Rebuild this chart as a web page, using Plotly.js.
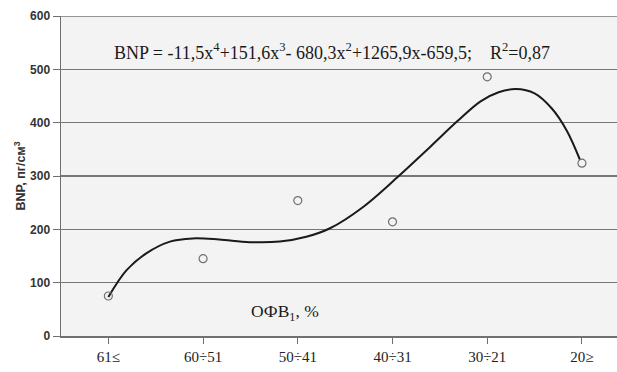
<!DOCTYPE html>
<html>
<head>
<meta charset="utf-8">
<script src="https://cdn.plot.ly/plotly-3.0.1.min.js"></script>
<style>html,body{margin:0;padding:0;background:#fff;}#chart{width:617px;height:372px;}</style>
</head>
<body>
<div id="chart"></div>
<script>
// Categories (EF groups) and observed BNP values
var categories = ["61≤", "60÷51", "50÷41", "40÷31", "30÷21", "20≥"];
var bnpValues = [75, 145, 254, 214, 486, 324];

// Trendline (position in category units, value)
var trendX = [0.0, 0.19, 0.40, 0.65, 0.89, 1.17, 1.49, 1.81, 2.09, 2.34, 2.69, 3.06, 3.40, 3.68, 3.93, 4.12, 4.30, 4.50, 4.68, 4.84, 4.98];
var trendY = [73, 123, 155, 177, 183, 181, 176, 177, 186, 202, 242, 299, 355, 402, 440, 457, 463, 455, 427, 385, 330];

var yTicks = [0, 100, 200, 300, 400, 500, 600];

var catIdx = categories.map(function(c, i){ return i; });

var traces = [
  {
    x: trendX, y: trendY, type: 'scatter', mode: 'lines',
    line: {color: '#1a1a1a', width: 2, shape: 'spline', smoothing: 1},
    hoverinfo: 'skip', showlegend: false
  },
  {
    x: catIdx, y: bnpValues, type: 'scatter', mode: 'markers',
    marker: {symbol: 'circle-open', size: 8, color: '#707070', line: {width: 1.2, color: '#707070'}},
    showlegend: false
  }
];

var layout = {
  width: 617, height: 372,
  margin: {l: 61, r: 0, t: 16, b: 36},
  paper_bgcolor: '#ffffff',
  plot_bgcolor: '#f3f3f3',
  showlegend: false,
  xaxis: {
    range: [-0.5, 5.37],
    tickvals: catIdx, ticktext: categories,
    showgrid: false, zeroline: false,
    showline: true, linecolor: '#707070', linewidth: 1.5,
    ticks: 'outside', ticklen: 6, tickcolor: '#707070',
    tickfont: {family: 'Liberation Serif, Times New Roman, serif', size: 15, color: '#222'}
  },
  yaxis: {
    range: [0, 600],
    tickvals: yTicks,
    showgrid: true, gridcolor: '#777777', gridwidth: 1.6,
    zeroline: false,
    showline: true, linecolor: '#707070', linewidth: 1.5,
    ticks: 'outside', ticklen: 7, tickcolor: '#707070',
    tickfont: {family: 'Liberation Sans, Arial, sans-serif', size: 12, color: '#333', weight: 'bold'},
    title: {text: 'BNP, пг/см<sup>3</sup>', standoff: 1,
      font: {family: 'Liberation Sans, Arial, sans-serif', size: 12.5, color: '#333', weight: 'bold'}}
  },
  shapes: [
    {type: 'line', xref: 'paper', yref: 'y', x0: 0, x1: 1, y0: 600, y1: 600, line: {color: '#777777', width: 1.6}}
  ],
  annotations: [
    {
      xref: 'paper', yref: 'paper', x: 0.092, y: 0.888, xanchor: 'left', yanchor: 'middle', showarrow: false,
      text: 'BNP = -11,5x<sup>4</sup>+151,6x<sup>3</sup>- 680,3x<sup>2</sup>+1265,9x-659,5;    R<sup>2</sup>=0,87',
      font: {family: 'Liberation Serif, Times New Roman, serif', size: 18, color: '#1a1a1a'}
    },
    {
      xref: 'x', yref: 'y', x: 1.87, y: 44, xanchor: 'center', yanchor: 'middle', showarrow: false,
      text: 'ОФВ<sub>1</sub>, %',
      font: {family: 'Liberation Serif, Times New Roman, serif', size: 17.5, color: '#1a1a1a'}
    }
  ]
};

Plotly.newPlot('chart', traces, layout, {displayModeBar: false, staticPlot: true});
</script>
</body>
</html>
